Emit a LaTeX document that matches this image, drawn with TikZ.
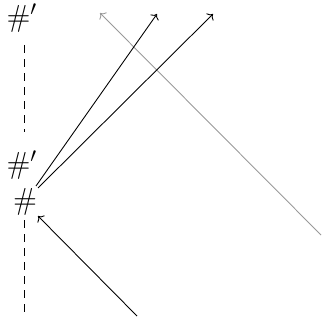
\documentclass[tikz,border=0pt]{standalone}
\usepackage{amsmath}
\usepackage{xcolor}
\definecolor{strandgray}{HTML}{999999}
\usepackage{tikz}
\usetikzlibrary{arrows.meta, positioning, calc}

\begin{document}
\begin{tikzpicture}[x=0.02cm, y=-0.02cm,
  label/.style={inner sep=0pt, font=\fontsize{18}{20}\selectfont},
  strand/.style={->, line width=0.5pt},
  faint/.style={->, line width=0.5pt, draw=strandgray},
  guide/.style={line width=0.5pt, dash pattern=on 4.5pt off 3.5pt}
]
\useasboundingbox (0,0) rectangle (321,323);
% Labels
\node[label] (top) at (22, 18)   {$\#'$};
\node[label] (mid) at (22, 165)  {$\#'$};
\node[label] (hash) at (25, 202) {$\#$};

% Strand ends
\coordinate (h1) at (36, 186);
\coordinate (h2) at (38, 188);
\coordinate (h3) at (38, 216);
\coordinate (t1) at (157, 14);
\coordinate (t2) at (213, 14);
\coordinate (g1) at (100, 13);
\coordinate (g0) at (321, 235);
\coordinate (b0) at (137, 316);
\coordinate (d1) at (24, 45);
\coordinate (d2) at (24, 132);
\coordinate (d3) at (24, 220);
\coordinate (d4) at (24, 316);

% Dashed guides
\draw[guide] (d1) -- (d2);
\draw[guide] (d3) -- (d4);

% Strands
\draw[faint] (g0) -- (g1);
\draw[strand] (h1) -- (t1);
\draw[strand] (h2) -- (t2);
\draw[strand] (b0) -- (h3);
\end{tikzpicture}
\end{document}
